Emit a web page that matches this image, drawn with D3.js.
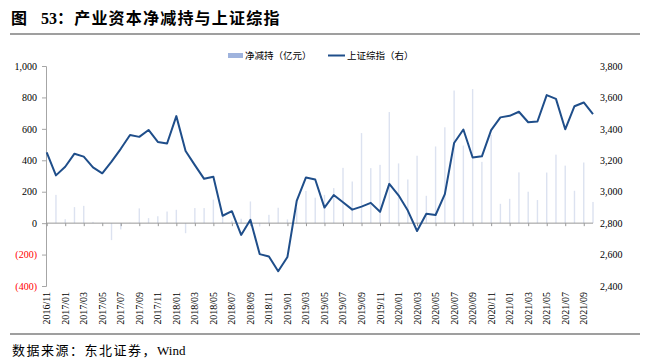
<!DOCTYPE html>
<html>
<head>
<meta charset="utf-8">
<script src="https://cdn.jsdelivr.net/npm/d3@7"></script>
<style>
  body { margin: 0; background: #fff; }
  svg { display: block; }
  .serif { font-family: "Liberation Serif", "Times New Roman", serif; }
  .cjk { font-family: "Noto Sans CJK SC", sans-serif; }
</style>
</head>
<body>
<div id="chart"></div>
<script>
// months 2016/11 .. 2021/10
const months = [];
for (let i = 0; i < 60; i++) {
  const y = 2016 + Math.floor((10 + i) / 12), m = (10 + i) % 12 + 1;
  months.push(y + '/' + String(m).padStart(2, '0'));
}

// 净减持（亿元）
const netReduce = [
  0, 180, 25, 102, 110, 8, 3, -108, -40, 2,
  94, 32, 44, 74, 85, -64, 96, 96, 150, 50,
  15, 28, 138, -21, 53, 98, 24, 100, 205, 162,
  180, 223, 352, 265, 573, 350, 371, 707, 380, 278,
  429, 174, 488, 610, 844, 494, 853, 390, 562, 123,
  155, 323, 200, 147, 322, 436, 366, 206, 386, 135
];

// 上证综指（右）
const shIndex = [
  3250, 3104, 3159, 3242, 3223, 3155, 3117, 3192, 3273, 3361,
  3349, 3393, 3317, 3307, 3481, 3259, 3169, 3082, 3095, 2847,
  2876, 2725, 2821, 2603, 2588, 2494, 2585, 2941, 3091, 3078,
  2899, 2979, 2933, 2886, 2905, 2929, 2872, 3050, 2977, 2880,
  2750, 2860, 2852, 2985, 3310, 3396, 3218, 3225, 3392, 3473,
  3483, 3509, 3442, 3447, 3615, 3591, 3397, 3544, 3568, 3494
];

const leftTicks = [-400, -200, 0, 200, 400, 600, 800, 1000];
const rightTicks = [2400, 2600, 2800, 3000, 3200, 3400, 3600, 3800];

const W = 649, H = 362;
const svg = d3.select('#chart').append('svg').attr('width', W).attr('height', H);

// title
const title = svg.append('text').attr('x', 11).attr('y', 24)
  .style('font-size', '16px').style('font-weight', 'bold');
title.append('tspan').attr('class', 'cjk').text('图');
title.append('tspan').attr('class', 'serif').attr('dx', 14).text('53');
title.append('tspan').attr('class', 'cjk').style('letter-spacing', '1.2px').text('：产业资本净减持与上证综指');

svg.append('line').attr('x1', 10).attr('x2', 640).attr('y1', 34).attr('y2', 34)
  .attr('stroke', '#7f7f7f').attr('stroke-width', 1.5);

const x = d3.scalePoint().domain(months).range([46.7, 593]);
const yL = d3.scaleLinear().domain([-400, 1000]).range([286, 66]);
const yR = d3.scaleLinear().domain([2400, 3800]).range([286, 66]);

// bars
svg.append('g').selectAll('rect').data(netReduce).enter().append('rect')
  .attr('x', (d, i) => x(months[i]) - 0.7)
  .attr('width', 1.4)
  .attr('y', d => yL(Math.max(0, d)))
  .attr('height', d => Math.abs(yL(d) - yL(0)))
  .attr('fill', '#dce2f0');

// left axis
const gL = svg.append('g').attr('transform', 'translate(46,0)')
  .call(d3.axisLeft(yL).tickValues(leftTicks).tickSize(4).tickPadding(5)
    .tickFormat(d => d < 0 ? '(' + d3.format(',')(-d) + ')' : d3.format(',')(d)));
gL.select('.domain').attr('stroke', '#a6a6a6');
gL.selectAll('.tick line').attr('stroke', '#a6a6a6');
gL.selectAll('.tick text').attr('class', 'serif').style('font-size', '10px')
  .attr('fill', d => d < 0 ? '#ff0000' : '#000');

// zero line with category ticks
const gX = svg.append('g').attr('transform', `translate(0,${yL(0)})`)
  .call(d3.axisBottom(x).tickValues(months.filter((d, i) => i % 2 === 0)).tickSize(3).tickFormat(''));
gX.select('.domain').attr('stroke', '#999').attr('d', `M46,0H593`);
gX.selectAll('.tick line').attr('stroke', '#999');

// x labels
svg.append('g').selectAll('text').data(months.filter((d, i) => i % 2 === 0)).enter().append('text')
  .attr('class', 'serif')
  .attr('transform', d => `translate(${x(d) + 3.5},292) rotate(-90)`)
  .attr('text-anchor', 'end')
  .style('font-size', '10px')
  .text(d => d);

// right axis labels
const gR = svg.append('g').attr('transform', 'translate(597,0)')
  .call(d3.axisRight(yR).tickValues(rightTicks).tickSize(0).tickPadding(3).tickFormat(d3.format(',')));
gR.select('.domain').remove();
gR.selectAll('.tick text').attr('class', 'serif').style('font-size', '10px').attr('fill', '#000');

// line
svg.append('path').datum(shIndex)
  .attr('fill', 'none').attr('stroke', '#1f4e8a').attr('stroke-width', 2)
  .attr('stroke-linejoin', 'round')
  .attr('d', d3.line().x((d, i) => x(months[i])).y(d => yR(d)));

// legend
const lg = svg.append('g').attr('class', 'cjk').style('font-size', '9.5px');
lg.append('rect').attr('x', 228).attr('y', 53).attr('width', 15).attr('height', 5).attr('fill', '#9fb3dd');
lg.append('text').attr('x', 245).attr('y', 59).text('净减持（亿元）');
lg.append('line').attr('x1', 328).attr('x2', 345).attr('y1', 55.5).attr('y2', 55.5)
  .attr('stroke', '#1f4e8a').attr('stroke-width', 2);
lg.append('text').attr('x', 347).attr('y', 59).text('上证综指（右）');

// bottom rule and source
svg.append('line').attr('x1', 10).attr('x2', 640).attr('y1', 334).attr('y2', 334)
  .attr('stroke', '#7f7f7f').attr('stroke-width', 1.5);
const src = svg.append('text').attr('x', 12).attr('y', 355).style('font-size', '13px');
src.append('tspan').attr('class', 'cjk').style('letter-spacing', '1.5px').text('数据来源：东北证券，');
src.append('tspan').attr('class', 'serif').text('Wind');
</script>
</body>
</html>
